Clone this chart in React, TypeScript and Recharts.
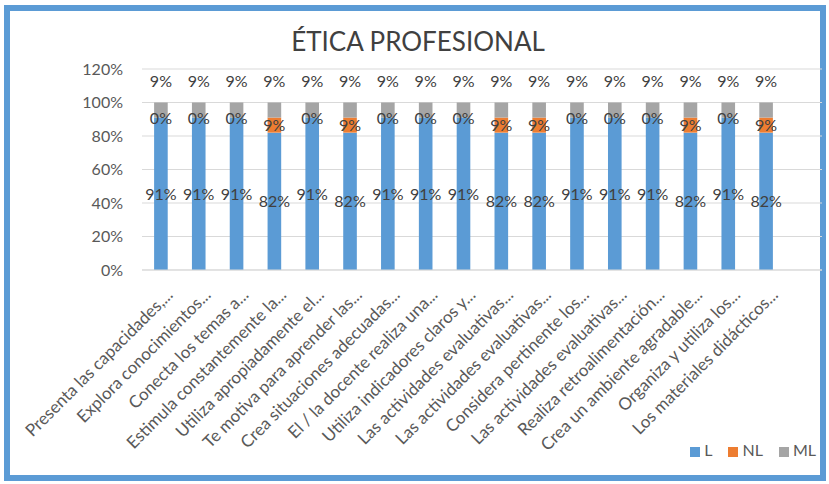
import { Bar, BarChart, CartesianGrid, LabelList, Legend, XAxis, YAxis } from 'recharts';

// Ética profesional: L / NL / ML por indicador (porcentaje de respuestas).
const categories = [
  'Presenta las capacidades,...',
  'Explora conocimientos...',
  'Conecta los temas a...',
  'Estimula constantemente la...',
  'Utiliza apropiadamente el...',
  'Te motiva para aprender las...',
  'Crea situaciones adecuadas...',
  'El / la docente realiza una...',
  'Utiliza indicadores claros y...',
  'Las actividades evaluativas...',
  'Las actividades evaluativas...',
  'Considera pertinente los...',
  'Las actividades evaluativas...',
  'Realiza retroalimentación...',
  'Crea un ambiente agradable...',
  'Organiza y utiliza los...',
  'Los materiales didácticos...',
];
const lValues = [91, 91, 91, 82, 91, 82, 91, 91, 91, 82, 82, 91, 91, 91, 82, 91, 82];
const nlValues = [0, 0, 0, 9, 0, 9, 0, 0, 0, 9, 9, 0, 0, 0, 9, 0, 9];
const mlValues = [9, 9, 9, 9, 9, 9, 9, 9, 9, 9, 9, 9, 9, 9, 9, 9, 9];
const yTicks = [0, 20, 40, 60, 80, 100, 120];
const seriesOrder = ['L', 'NL', 'ML'];

const data = categories.map((name, i) => ({
  name,
  L: lValues[i],
  NL: nlValues[i],
  ML: mlValues[i],
}));

const FONT = 'Lato, "Liberation Sans", sans-serif';
const TEXT = '#404040';
const pct = (v: unknown) => `${v}%`;

function XTick({ x, y, payload }: any) {
  return (
    <g transform={`translate(${x + 13},${y + 18}) rotate(-45)`}>
      <text x={0} y={0} textAnchor="end" fontSize={17} fill="#595959" fontFamily={FONT}>
        {payload.value}
      </text>
    </g>
  );
}

function LabelText({ x, y, children }: any) {
  return (
    <text x={x} y={y} dy={6} textAnchor="middle" fontSize={16} fill={TEXT} fontFamily={FONT}>
      {children}
    </text>
  );
}

// etiqueta L centrada en su tramo
function MidLabel({ x, y, width, height, value }: any) {
  return <LabelText x={x + width / 2} y={y + height / 2}>{value}%</LabelText>;
}

// etiqueta NL: se dibuja desde la barra ML (justo encima) para que aparezca aunque NL = 0
function NlLabel({ x, y, width, height, value, index }: any) {
  const perUnit = height / mlValues[index];
  return <LabelText x={x + width / 2} y={y + height + (perUnit * value) / 2}>{value}%</LabelText>;
}

// etiqueta de ML por encima de la barra
function TopLabel({ x, y, width, value }: any) {
  return (
    <text x={x + width / 2} y={y - 16} textAnchor="middle" fontSize={16} fill={TEXT} fontFamily={FONT}>
      {value}%
    </text>
  );
}

export default function App() {
  return (
    <div style={{ position: 'absolute', left: 0, top: 0, width: 829, height: 484, background: '#fff' }}>
      <div
        style={{
          position: 'absolute',
          left: 4,
          top: 5,
          width: 810,
          height: 464,
          border: '6px solid #5B9BD5',
        }}
      />
      <div
        style={{
          position: 'absolute',
          left: 0,
          top: 24,
          width: 836,
          textAlign: 'center',
          fontFamily: FONT,
          fontSize: 26,
          color: '#404040',
          lineHeight: '34px',
        }}
      >
        ÉTICA PROFESIONAL
      </div>
      <div style={{ position: 'absolute', left: 0, top: 0 }}>
        <BarChart
          width={829}
          height={484}
          data={data}
          margin={{ top: 69, right: 7, left: 0, bottom: 0 }}
          barCategoryGap="68%"
        >
          <CartesianGrid stroke="#D9D9D9" vertical={false} />
          <XAxis
            dataKey="name"
            interval={0}
            height={184}
            tick={<XTick />}
            tickLine={false}
            axisLine={{ stroke: '#D9D9D9' }}
            padding={{ left: 0, right: 37 }}
          />
          <YAxis
            domain={[0, 120]}
            ticks={yTicks}
            tickFormatter={pct}
            width={142}
            tickLine={false}
            axisLine={false}
            tickSize={0}
            tickMargin={19}
            tick={{ fontSize: 16, fill: '#595959', fontFamily: FONT }}
          />
          <Legend
            height={30}
            iconType="square"
            iconSize={10}
            itemSorter={(item: any) => seriesOrder.indexOf(item.value)}
            formatter={(v) => (
              <span style={{ color: '#595959', fontSize: 16, fontFamily: FONT, paddingRight: 6 }}>{v}</span>
            )}
            wrapperStyle={{ top: 440, right: -3, left: 'auto', bottom: 'auto', width: 'auto' }}
          />
          <Bar dataKey="L" stackId="a" fill="#5B9BD5" isAnimationActive={false}>
            <LabelList dataKey="L" content={<MidLabel />} />
          </Bar>
          <Bar dataKey="NL" stackId="a" fill="#ED7D31" isAnimationActive={false} />
          <Bar dataKey="ML" stackId="a" fill="#A5A5A5" isAnimationActive={false}>
            <LabelList dataKey="ML" content={<TopLabel />} />
            <LabelList dataKey="NL" content={<NlLabel />} />
          </Bar>
        </BarChart>
      </div>
    </div>
  );
}
